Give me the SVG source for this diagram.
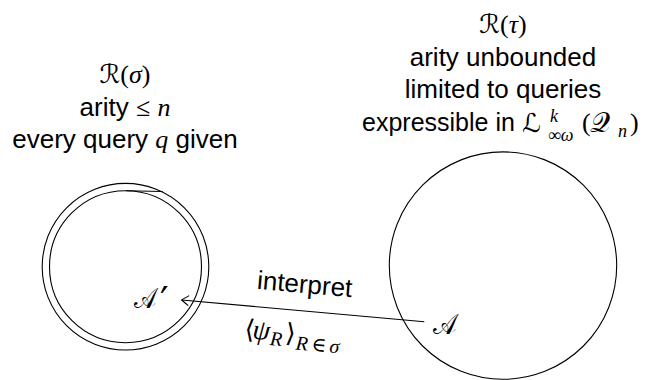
<svg xmlns="http://www.w3.org/2000/svg" width="648" height="380" viewBox="0 0 648 380">
<style>
.bg{fill:#fff}
.c{fill:none;stroke:#000;stroke-width:1.1}
.t{font-family:"Liberation Sans",Arial,sans-serif;font-size:26px;fill:#000}
.m{font-family:"Liberation Serif","DejaVu Serif",serif;font-size:26px;fill:#000}
.i{font-style:italic}
.cal{font-family:"DejaVu Sans","Noto Sans","DejaVu Serif",serif;font-style:normal}
.big{font-size:28px}
.s{font-size:18px}
.s2{font-size:20px}
.e{stroke:#000;stroke-width:1.1;fill:none}
</style>
<defs>
<marker id="tip" markerUnits="userSpaceOnUse" markerWidth="14" markerHeight="14" viewBox="-10 -7 12 14" refX="0" refY="0" orient="auto">
<path d="M-7,-5 Q-2,-1.5 0,0 Q-2,1.5 -7,5" fill="none" stroke="#000" stroke-width="1.1"/>
</marker>
</defs>
<rect class="bg" width="648" height="380"/>
<g id="sigma">
<circle class="c" cx="125.5" cy="266.7" r="83.3"/>
<circle class="c" cx="125.5" cy="266.7" r="76"/>
<line class="e" x1="126" y1="190.7" x2="162.7" y2="191.5"/>
<text class="m" x="125" y="83" text-anchor="middle"><tspan class="cal">ℛ</tspan>(<tspan class="i">σ</tspan>)</text>
<text class="t" x="125" y="116" text-anchor="middle">arity <tspan class="m">≤</tspan> <tspan class="m i">n</tspan></text>
<text class="t" x="125" y="148" text-anchor="middle">every query <tspan class="m i">q</tspan> given</text>
<text class="m cal big" transform="translate(134,308) scale(0.85,1.05)">𝒜</text>
<text x="160" y="313" style="font-family:'DejaVu Sans',sans-serif;font-size:38px;fill:#000">′</text>
</g>
<g id="tau">
<circle class="c" cx="503" cy="265.6" r="113.7"/>
<text class="m" x="503" y="33" text-anchor="middle"><tspan class="cal">ℛ</tspan>(<tspan class="i">τ</tspan>)</text>
<text class="t" x="503" y="66" text-anchor="middle">arity unbounded</text>
<text class="t" x="503" y="98" text-anchor="middle">limited to queries</text>
<text class="t" x="362" y="131" style="font-size:25px">expressible in</text>
<text class="m cal" x="522" y="132">ℒ</text>
<text class="m i s" x="550" y="122">k</text>
<text class="m s" x="548" y="141">∞<tspan class="i">ω</tspan></text>
<text class="m" x="582" y="131">(</text>
<text class="m cal big" x="590" y="132">𝒬</text>
<text class="m i s" x="618" y="137">n</text>
<text class="m" x="630" y="131">)</text>
<text class="m cal big" transform="translate(433,334) scale(0.9,1.05)">𝒜</text>
</g>
<g id="connectors">
<line class="e" x1="424.3" y1="321.7" x2="181.7" y2="300" marker-end="url(#tip)"/>
<text class="t" x="304" y="293" text-anchor="middle" transform="rotate(5.1 304 293)">interpret</text>
<text class="m" transform="rotate(5.1 246 338)" y="338"><tspan x="244">⟨</tspan><tspan class="i" x="252" style="font-size:28px">ψ</tspan><tspan class="i s2" x="270" dy="5">R</tspan><tspan x="285" dy="-5">⟩</tspan><tspan class="i s2" x="296" dy="7">R</tspan><tspan class="s2" x="312">∈</tspan><tspan class="i s2" x="330">σ</tspan></text>
</g>
</svg>
